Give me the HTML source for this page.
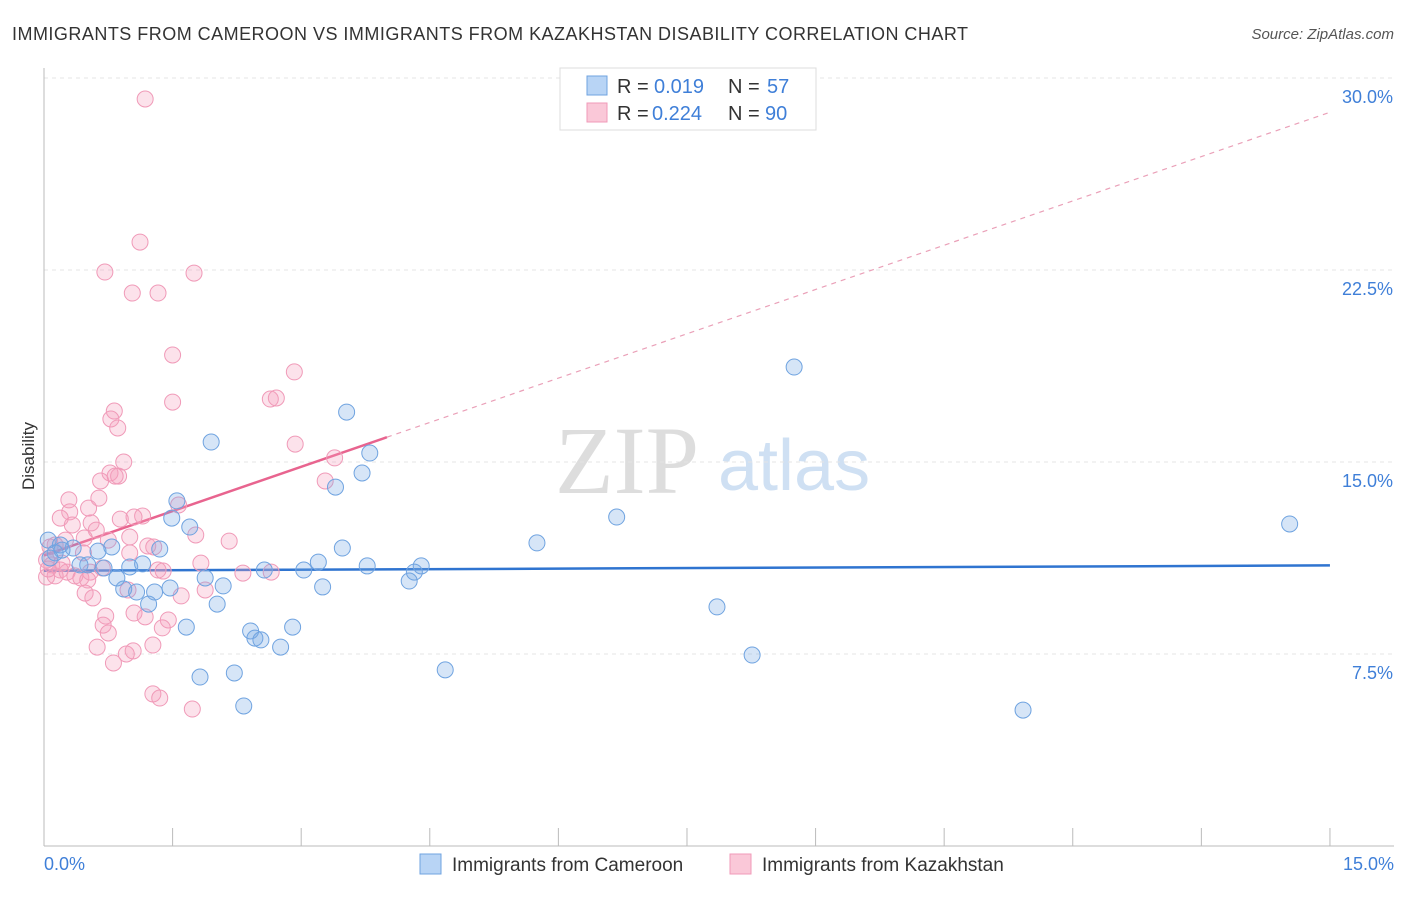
<!DOCTYPE html>
<html><head><meta charset="utf-8"><style>
body{margin:0;background:#fff;font-family:"Liberation Sans",sans-serif;}
</style></head><body>
<svg width="1406" height="892" xmlns="http://www.w3.org/2000/svg" style="font-family:'Liberation Sans',sans-serif">
<text x="12" y="40" font-size="18" fill="#333" textLength="956">IMMIGRANTS FROM CAMEROON VS IMMIGRANTS FROM KAZAKHSTAN DISABILITY CORRELATION CHART</text>
<text x="1394" y="39" font-size="15" fill="#555" font-style="italic" text-anchor="end">Source: ZipAtlas.com</text>
<g>
<text x="555" y="493" font-size="96" fill="#ddd" font-family="Liberation Serif,serif">ZIP</text>
<text x="718" y="490" font-size="72" fill="#cfe0f3">atlas</text>
</g>
<g id="grid"></g>
<g id="axes"></g>
<text transform="translate(34,456) rotate(-90)" font-size="17" fill="#333" text-anchor="middle">Disability</text>
<g id="lines"></g>
<g id="pts"></g>
<g>
<rect x="560" y="68" width="256" height="62" fill="#fff" stroke="#ddd"/>
<rect x="587" y="76" width="20" height="19" fill="#b8d4f5" stroke="#6fa3e0"/>
<rect x="587" y="103" width="20" height="19" fill="#fac8d8" stroke="#f09ab8"/>
<text x="617" y="93" font-size="20" fill="#333">R =</text>
<text x="654" y="93" font-size="20" fill="#3f7fd8">0.019</text>
<text x="728" y="93" font-size="20" fill="#333">N =</text>
<text x="767" y="93" font-size="20" fill="#3f7fd8">57</text>
<text x="617" y="120" font-size="20" fill="#333">R =</text>
<text x="652" y="120" font-size="20" fill="#3f7fd8">0.224</text>
<text x="728" y="120" font-size="20" fill="#333">N =</text>
<text x="765" y="120" font-size="20" fill="#3f7fd8">90</text>
</g>
<g>
<rect x="420" y="854" width="21" height="20" fill="#b8d4f5" stroke="#6fa3e0"/>
<text x="452" y="871" font-size="19" fill="#333">Immigrants from Cameroon</text>
<rect x="730" y="854" width="21" height="20" fill="#fac8d8" stroke="#f09ab8"/>
<text x="762" y="871" font-size="19" fill="#333">Immigrants from Kazakhstan</text>
</g>
</svg>
<script>
const yTicks=[7.5,15,22.5,30];
const yTickLabels=["7.5%","15.0%","22.5%","30.0%"];
const xTicks=[0,1.5,3,4.5,6,7.5,9,10.5,12,13.5,15];
const blueX=[8.75,3.53,1.95,3.80,3.71,3.40,1.55,1.49,6.68,14.53,1.70,5.75,3.48,1.35,0.79,0.63,0.34,0.19,0.05,0.13,3.20,3.77,4.40,3.03,2.57,4.32,4.26,1.00,1.15,0.70,0.51,0.85,1.88,2.09,3.25,1.47,0.93,1.08,1.29,1.22,2.02,7.85,1.66,2.90,2.41,2.46,2.53,2.76,8.26,4.68,2.22,1.82,2.33,11.42,0.21,0.07,0.42];
const blueY=[18.71,16.95,15.78,15.35,14.57,14.02,13.48,12.81,12.85,12.58,12.46,11.84,11.64,11.60,11.68,11.52,11.64,11.76,11.95,11.45,11.09,10.94,10.94,10.78,10.78,10.70,10.35,10.90,11.02,10.86,10.98,10.47,10.47,10.16,10.12,10.08,10.04,9.92,9.92,9.45,9.45,9.34,8.55,8.55,8.40,8.12,8.05,7.77,7.46,6.88,6.76,6.60,5.47,5.31,11.56,11.25,10.98];
const pinkX=[1.18,1.12,0.71,1.75,1.03,1.33,1.50,2.92,1.50,2.64,2.71,0.82,0.78,0.86,2.93,3.39,0.93,0.77,0.87,0.83,0.66,3.28,0.29,0.64,1.57,0.52,0.30,0.19,1.15,1.05,0.89,0.55,0.33,0.61,1.00,1.77,2.16,1.21,1.28,0.47,0.75,0.25,0.13,0.07,1.00,0.46,0.03,0.09,0.19,0.27,0.36,0.43,0.54,0.68,1.33,1.39,1.83,2.65,2.32,0.51,0.98,1.60,0.48,0.57,1.88,0.72,1.05,1.18,1.45,0.69,0.75,1.38,1.27,0.62,1.04,0.96,0.81,1.27,1.35,1.73,0.03,0.13,0.05,0.21];
const pinkY=[29.18,23.59,22.42,22.38,21.60,21.60,19.18,18.52,17.34,17.46,17.50,16.99,16.68,16.33,15.70,15.16,15.00,14.57,14.45,14.45,14.26,14.26,13.52,13.59,13.32,13.20,13.05,12.81,12.89,12.85,12.77,12.62,12.54,12.34,12.07,12.15,11.91,11.72,11.68,12.03,11.95,11.95,11.76,11.68,11.45,11.45,11.17,10.98,10.78,10.70,10.55,10.47,10.70,10.86,10.78,10.74,11.05,10.70,10.66,10.39,10.00,9.77,9.88,9.69,10.00,8.98,9.10,8.95,8.83,8.63,8.32,8.52,7.85,7.77,7.62,7.50,7.15,5.94,5.78,5.35,10.51,10.55,10.82,11.05];
const pinkSolidEnd=[4.0];
const NS="http://www.w3.org/2000/svg";
const X=v=>44+v*85.73, Y=v=>846-v*25.6;
function mk(tag,attrs,parent){const e=document.createElementNS(NS,tag);for(const k in attrs)e.setAttribute(k,attrs[k]);parent.appendChild(e);return e;}
const grid=document.getElementById('grid'),axes=document.getElementById('axes');
yTicks.forEach((t,i)=>{
 const l=mk('line',{x1:44,x2:1394,y1:Y(t),y2:Y(t),stroke:'#e4e4e4','stroke-dasharray':'4,4'},grid);
 
 
 const tx=mk('text',{x:1393,y:Y(t)+25,'font-size':18,fill:'#3f7fd8','text-anchor':'end'},axes);
 tx.textContent=yTickLabels[i];
 
 
});
mk('line',{x1:44,x2:1394,y1:846,y2:846,stroke:'#bbb'},axes);
mk('line',{x1:44,x2:44,y1:68,y2:846,stroke:'#bbb'},axes);
xTicks.forEach(t=>{const l=mk('line',{x1:X(t),x2:X(t),y1:828,y2:846,stroke:'#bbb'},axes);
 
 });
const a=mk('text',{x:44,y:870,'font-size':18,fill:'#3f7fd8'},axes);a.textContent="0.0%";


const b=mk('text',{x:1394,y:870,'font-size':18,fill:'#3f7fd8','text-anchor':'end'},axes);b.textContent="15.0%";


const pts=document.getElementById('pts');
function dots(xs,ys,fill,stroke,name){xs.forEach((x,i)=>{const c=mk('circle',{cx:X(x),cy:Y(ys[i]),r:8,fill:fill,stroke:stroke,'stroke-width':1},pts);
 
 });}
dots(pinkX,pinkY,'rgba(244,160,188,0.3)','#f09ab8','point-kazakhstan');
dots(blueX,blueY,'rgba(120,170,230,0.3)','#6fa3e0','point-cameroon');
const lines=document.getElementById('lines');
function fit(xs,ys){const n=xs.length;let mx=0,my=0;xs.forEach((x,i)=>{mx+=x;my+=ys[i]});mx/=n;my/=n;let sxy=0,sxx=0;xs.forEach((x,i)=>{sxy+=(x-mx)*(ys[i]-my);sxx+=(x-mx)**2});const s=sxy/sxx;return [s,my-s*mx];}
const bf=fit(blueX,blueY),pf=fit(pinkX,pinkY);
const bl=mk('line',{x1:X(0),y1:Y(bf[1]),x2:X(15),y2:Y(bf[1]+bf[0]*15),stroke:'#2f74d0','stroke-width':2.5},lines);


const pmax=pinkSolidEnd[0];
const pl=mk('line',{x1:X(0),y1:Y(pf[1]),x2:X(pmax),y2:Y(pf[1]+pf[0]*pmax),stroke:'#e8648f','stroke-width':2.5},lines);


const pd=mk('line',{x1:X(pmax),y1:Y(pf[1]+pf[0]*pmax),x2:X(15),y2:Y(pf[1]+pf[0]*15),stroke:'#eaa0b8','stroke-width':1.2,'stroke-dasharray':'5,5'},lines);


</script>
</body></html>
